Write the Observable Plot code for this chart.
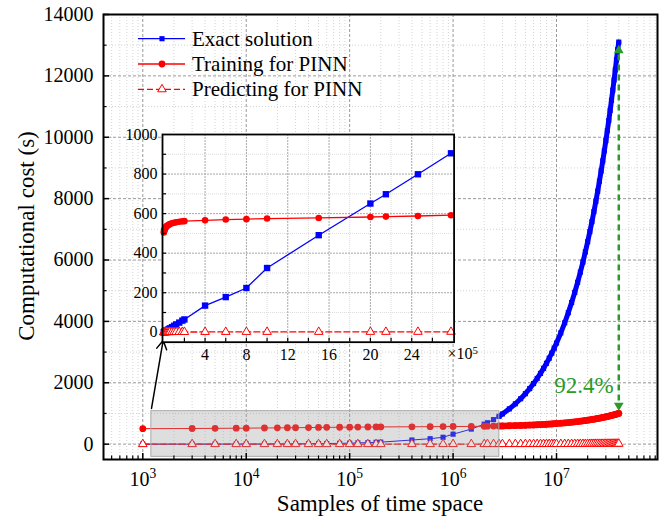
<!DOCTYPE html>
<html><head><meta charset="utf-8">
<script src="https://cdn.jsdelivr.net/npm/d3@7"></script>
<script src="https://cdn.jsdelivr.net/npm/@observablehq/plot@0.6"></script>
<style>
body{margin:0;background:#fff;}
#wrap{position:relative;width:672px;height:522px;font-family:"Liberation Serif","Times New Roman",serif;}
#wrap svg{position:absolute;overflow:visible;}
</style></head><body><div id="wrap"></div>
<script>
// ---- data ----
const samples = [1e3,3e3,5e3,8e3,1e4,1.5e4,2e4,2.5e4,3e4,4e4,5e4,6e4,8e4,1e5,1.2e5,1.5e5,1.8e5,2e5,4e5,6e5,8e5,1e6,1.5e6,2e6,2.15e6,2.46e6,2.78e6,
  3e6,3.5e6,4e6,4.5e6,5e6,5.5e6,6e6,6.5e6,7e6,7.5e6,8e6,8.5e6,9e6,9.5e6,
  1e7,1.1e7,1.2e7,1.3e7,1.4e7,1.5e7,1.6e7,1.7e7,1.8e7,1.9e7,2e7,2.1e7,2.2e7,2.3e7,2.4e7,2.5e7,2.6e7,2.7e7,2.8e7,2.9e7,
  3e7,3.1e7,3.2e7,3.3e7,3.4e7,3.5e7,3.6e7,3.7e7,3.8e7,3.9e7,4e7];
const exactCost = [0.5,1,2,3,3,5,7,8,10,13,16,20,26,33,40,49,59,65,135,178,224,325,491,651,698,799,905,
  985,1150,1315,1480,1645,1810,1975,2140,2305,2470,2635,2800,2965,3130,
  3295,3625,3955,4285,4615,4945,5275,5605,5935,6265,6595,6925,7250,7580,7910,8240,8570,8900,9230,9560,
  9890,10215,10545,10875,11205,11535,11865,12195,12525,12855,13100];
const trainingCost = [505,510,515,520,522,527,531,534,537,541,544,547,551,554,556,559,561,562,566,570,572,575,578,583,585,588,592,
  594,600,605,611,616,622,627,633,638,644,649,655,660,666,
  671,682,693,704,715,726,737,748,759,770,781,792,803,814,825,836,847,858,869,880,
  891,902,913,924,935,946,957,968,979,990,1001];
const predictingCost = [0.2,0.3,0.4,0.5,0.5,0.6,0.7,0.8,0.9,1,1,1.1,1.2,1.3,1.3,1.4,1.5,1.5,1.7,1.8,1.9,2,2.1,2.2,2.2,2.3,2.4,
  2.5,2.6,2.8,2.9,3.0,3.2,3.3,3.4,3.6,3.7,3.9,4.0,4.1,4.3,
  4.4,4.7,5.0,5.3,5.6,5.9,6.2,6.5,6.8,7.1,7.4,7.7,8.0,8.3,8.6,8.9,9.2,9.5,9.8,10.1,
  10.4,10.7,11.0,11.3,11.6,11.9,12.2,12.5,12.8,13.1,13.4];
const seriesNames = ["Exact solution","Training for PINN","Predicting for PINN"];
const xTicks = [1e3,1e4,1e5,1e6,1e7];
const yTicks = [0,2000,4000,6000,8000,10000,12000,14000];
const insetXTicks = [4,8,12,16,20,24];
const insetYTicks = [0,200,400,600,800,1000];
const xTitle = "Samples of time space";
const yTitle = "Computational cost (s)";
const reductionLabel = "92.4%";
// annotations (data coordinates)
const zoomBox = [{x1:1.21e3, x2:2.8e6, y1:-414, y2:1075}];
const pointer = [{x1:1214, y1:1163, x2:1574, y2:3379}];
const reduction = [{x:4e7, top:12830, bottom:1260, lineTop:12700, lineBottom:1380, labelY:1913}];

// ---- layout ----
const W=672,H=522,mL=103,mR=15,mT=14,mB=63;
const iw=W-mL-mR, ih=H-mT-mB;
const blue="#0000ff", red="#ff0000", green="#2a9a2a";
const font="'Liberation Serif', 'Times New Roman', serif";

const rows = samples.map((s,i)=>({s, e:exactCost[i], t:trainingCost[i], p:predictingCost[i]}));
const sparse = rows.filter(d=>d.s<2.9e6);
const dense = rows.filter(d=>d.s>=2.7e6);
const minorX=[]; for(let e=2;e<=7;e++) for(let m=2;m<=9;m++){const v=m*10**e; if(v>417&&v<9.47e7) minorX.push(v);}
const minorY=[]; for(let v=1000; v<14000; v+=2000) minorY.push(v);

const main = Plot.plot({
  width:W,height:H,marginLeft:mL,marginRight:mR,marginTop:mT,marginBottom:mB,
  style:{fontFamily:font, background:"transparent", overflow:"visible", color:"black"},
  x:{type:"log", domain:[417, 9.47e7]},
  y:{domain:[-500,14000]},
  marks:[
    Plot.gridX(minorX,{stroke:"#d4d4d4",strokeOpacity:1,strokeDasharray:"1,2"}),
    Plot.gridY(minorY,{stroke:"#d4d4d4",strokeOpacity:1,strokeDasharray:"1,2"}),
    Plot.gridX(xTicks,{stroke:"#9a9a9a",strokeOpacity:1,strokeDasharray:"3,2"}),
    Plot.gridY(yTicks,{stroke:"#9a9a9a",strokeOpacity:1,strokeDasharray:"3,2"}),
    Plot.line(sparse,{x:"s",y:"e",stroke:blue,strokeWidth:1}),
    Plot.line(dense,{x:"s",y:"e",stroke:blue,strokeWidth:5}),
    Plot.dot(rows,{x:"s",y:"e",symbol:"square",r:2.9,fill:blue}),
    Plot.line(sparse,{x:"s",y:"t",stroke:red,strokeWidth:1}),
    Plot.line(dense,{x:"s",y:"t",stroke:red,strokeWidth:6.5}),
    Plot.dot(rows,{x:"s",y:"t",r:3.4,fill:red}),
    Plot.line(rows,{x:"s",y:"p",stroke:red,strokeWidth:1.3,strokeDasharray:"6,3"}),
    Plot.dot(rows,{x:"s",y:"p",symbol:"triangle",r:3.2,fill:"white",stroke:red,strokeWidth:1}),
    Plot.rect(zoomBox,{x1:"x1",x2:"x2",y1:"y1",y2:"y2",fill:"#999",fillOpacity:0.32,stroke:"#aaa"}),
    Plot.arrow(pointer,{x1:"x1",y1:"y1",x2:"x2",y2:"y2",stroke:"black",strokeWidth:1.5,headLength:10}),
    Plot.link(reduction,{x1:"x",x2:"x",y1:"lineTop",y2:"lineBottom",stroke:green,strokeWidth:2.5,strokeDasharray:"6,4"}),
    Plot.dot(reduction,{x:"x",y:"top",symbol:"triangle",r:3.6,fill:green}),
    Plot.dot(reduction,{x:"x",y:"bottom",symbol:"triangle",r:3.6,fill:green,rotate:180}),
    Plot.text(reduction,{x:"x",y:"labelY",text:()=>reductionLabel,textAnchor:"end",dx:-5,fill:green,fontSize:23}),
    Plot.frame({stroke:"black",strokeWidth:2}),
    Plot.tickX(xTicks,{x:d=>d,insetTop:ih-6,stroke:"black",strokeWidth:1.5}),
    Plot.tickX(minorX,{x:d=>d,insetTop:ih-3.5,stroke:"black",strokeWidth:1.2}),
    Plot.tickY(yTicks,{y:d=>d,insetRight:iw-6,stroke:"black",strokeWidth:1.5}),
    Plot.tickY(minorY,{y:d=>d,insetRight:iw-3.5,stroke:"black",strokeWidth:1.2}),
    Plot.axisX(xTicks,{tickSize:0,tickPadding:12,fontSize:20,label:null,tickFormat:d=>"10^"+Math.round(Math.log10(d))}),
    Plot.axisY(yTicks,{tickSize:0,tickPadding:10,fontSize:20,label:null,tickFormat:d=>String(d)})
  ]
});
const wrap=document.getElementById("wrap");
main.style.left="0px"; main.style.top="0px";
wrap.appendChild(main);

const ms=d3.select(main);
ms.selectAll('g[aria-label="x-axis tick label"] text').each(function(){
  const m=(this.textContent||"").match(/10\^(\d+)/);
  if(!m) return;
  while(this.firstChild) this.removeChild(this.firstChild);
  const t=d3.select(this);
  t.append("tspan").text("10");
  t.append("tspan").attr("dy","-0.55em").attr("font-size","0.68em").text(m[1]);
});
ms.append("text").attr("x",(mL+W-mR)/2).attr("y",511).attr("text-anchor","middle")
  .attr("font-size",23).attr("font-family",font).attr("fill","black").text(xTitle);
ms.append("text").attr("transform","translate(34,236) rotate(-90)").attr("text-anchor","middle")
  .attr("font-size",23).attr("font-family",font).attr("fill","black").text(yTitle);

// legend
const lg=ms.append("g").attr("font-family",font).attr("font-size",21).attr("text-anchor","start");
const ly=[38.7,64,89.3];
const styles=[{c:blue,dash:null,sym:d3.symbolSquare,fill:blue,r:2.9},{c:red,dash:null,sym:d3.symbolCircle,fill:red,r:3.4},{c:red,dash:"6,3",sym:d3.symbolTriangle,fill:"white",r:3.2}];
seriesNames.forEach((name,i)=>{
  const s=styles[i];
  lg.append("line").attr("x1",138).attr("x2",185).attr("y1",ly[i]).attr("y2",ly[i]).attr("stroke",s.c).attr("stroke-width",1.3).attr("stroke-dasharray",s.dash);
  lg.append("path").attr("transform",`translate(162,${ly[i]})`).attr("d",d3.symbol(s.sym,Math.PI*s.r*s.r)()).attr("fill",s.fill).attr("stroke",i==2?red:"none");
  lg.append("text").attr("x",192).attr("y",ly[i]+7).attr("text-anchor","start").attr("fill","black").text(name);
});

// ---- inset ----
const iL=50,iT=8,iR=40,iB=30,iW=291.6,iH=207.7;
const insetRows = rows.filter(d=>d.s<=2.8e6).map(d=>({x:d.s/1e5,e:d.e,t:d.t,p:d.p}));
const iMinorX=[2,6,10,14,18,22,26];
const iMinorY=[100,300,500,700,900];
const iTickX=[2,4,6,8,10,12,14,16,18,20,22,24,26];
const inset = Plot.plot({
  width:iL+iW+iR,height:iT+iH+iB,marginLeft:iL,marginRight:iR,marginTop:iT,marginBottom:iB,
  style:{fontFamily:font, background:"transparent", overflow:"visible", color:"black"},
  x:{domain:[-0.12,28.1]},
  y:{domain:[-50,1000]},
  marks:[
    Plot.frame({fill:"white"}),
    Plot.gridX(iMinorX,{stroke:"#dcdcdc",strokeOpacity:1,strokeDasharray:"1,1"}),
    Plot.gridY(iMinorY,{stroke:"#dcdcdc",strokeOpacity:1,strokeDasharray:"1,1"}),
    Plot.gridX(insetXTicks,{stroke:"#a8a8a8",strokeOpacity:1,strokeDasharray:"2,1"}),
    Plot.gridY(insetYTicks.slice(1,-1),{stroke:"#a8a8a8",strokeOpacity:1,strokeDasharray:"2,1"}),
    Plot.line(insetRows,{x:"x",y:"e",stroke:blue,strokeWidth:1.3}),
    Plot.dot(insetRows,{x:"x",y:"e",symbol:"square",r:3.6,fill:blue}),
    Plot.line(insetRows,{x:"x",y:"t",stroke:red,strokeWidth:1.3}),
    Plot.dot(insetRows,{x:"x",y:"t",r:3.3,fill:red}),
    Plot.line(insetRows,{x:"x",y:"p",stroke:red,strokeWidth:1.3,strokeDasharray:"6,3"}),
    Plot.dot(insetRows,{x:"x",y:"p",symbol:"triangle",r:3.2,fill:"white",stroke:red,strokeWidth:1}),
    Plot.frame({stroke:"black",strokeWidth:1.8}),
    Plot.tickX(iTickX,{x:d=>d,insetTop:iH-4,stroke:"black",strokeWidth:1.2}),
    Plot.tickY(iMinorY.concat(insetYTicks.slice(1,-1)),{y:d=>d,insetRight:iW-4,stroke:"black",strokeWidth:1.2}),
    Plot.axisX(insetXTicks,{tickSize:0,tickPadding:6,fontSize:16,label:null}),
    Plot.axisY(insetYTicks,{tickSize:0,tickPadding:5,fontSize:16,label:null,tickFormat:d=>String(d)})
  ]
});
inset.style.left=(161.7-iL)+"px"; inset.style.top=(134-iT)+"px";
wrap.appendChild(inset);
const isx=inset.scale("x");
const xl=d3.select(inset).append("text").attr("x",isx.apply(28)-5).attr("y",iT+iH+6).attr("dy","0.71em")
  .attr("text-anchor","start").attr("font-size",16).attr("font-family",font).attr("fill","black");
xl.append("tspan").text("×10");
xl.append("tspan").attr("dy","-0.5em").attr("font-size","0.68em").text("5");
</script></body></html>
